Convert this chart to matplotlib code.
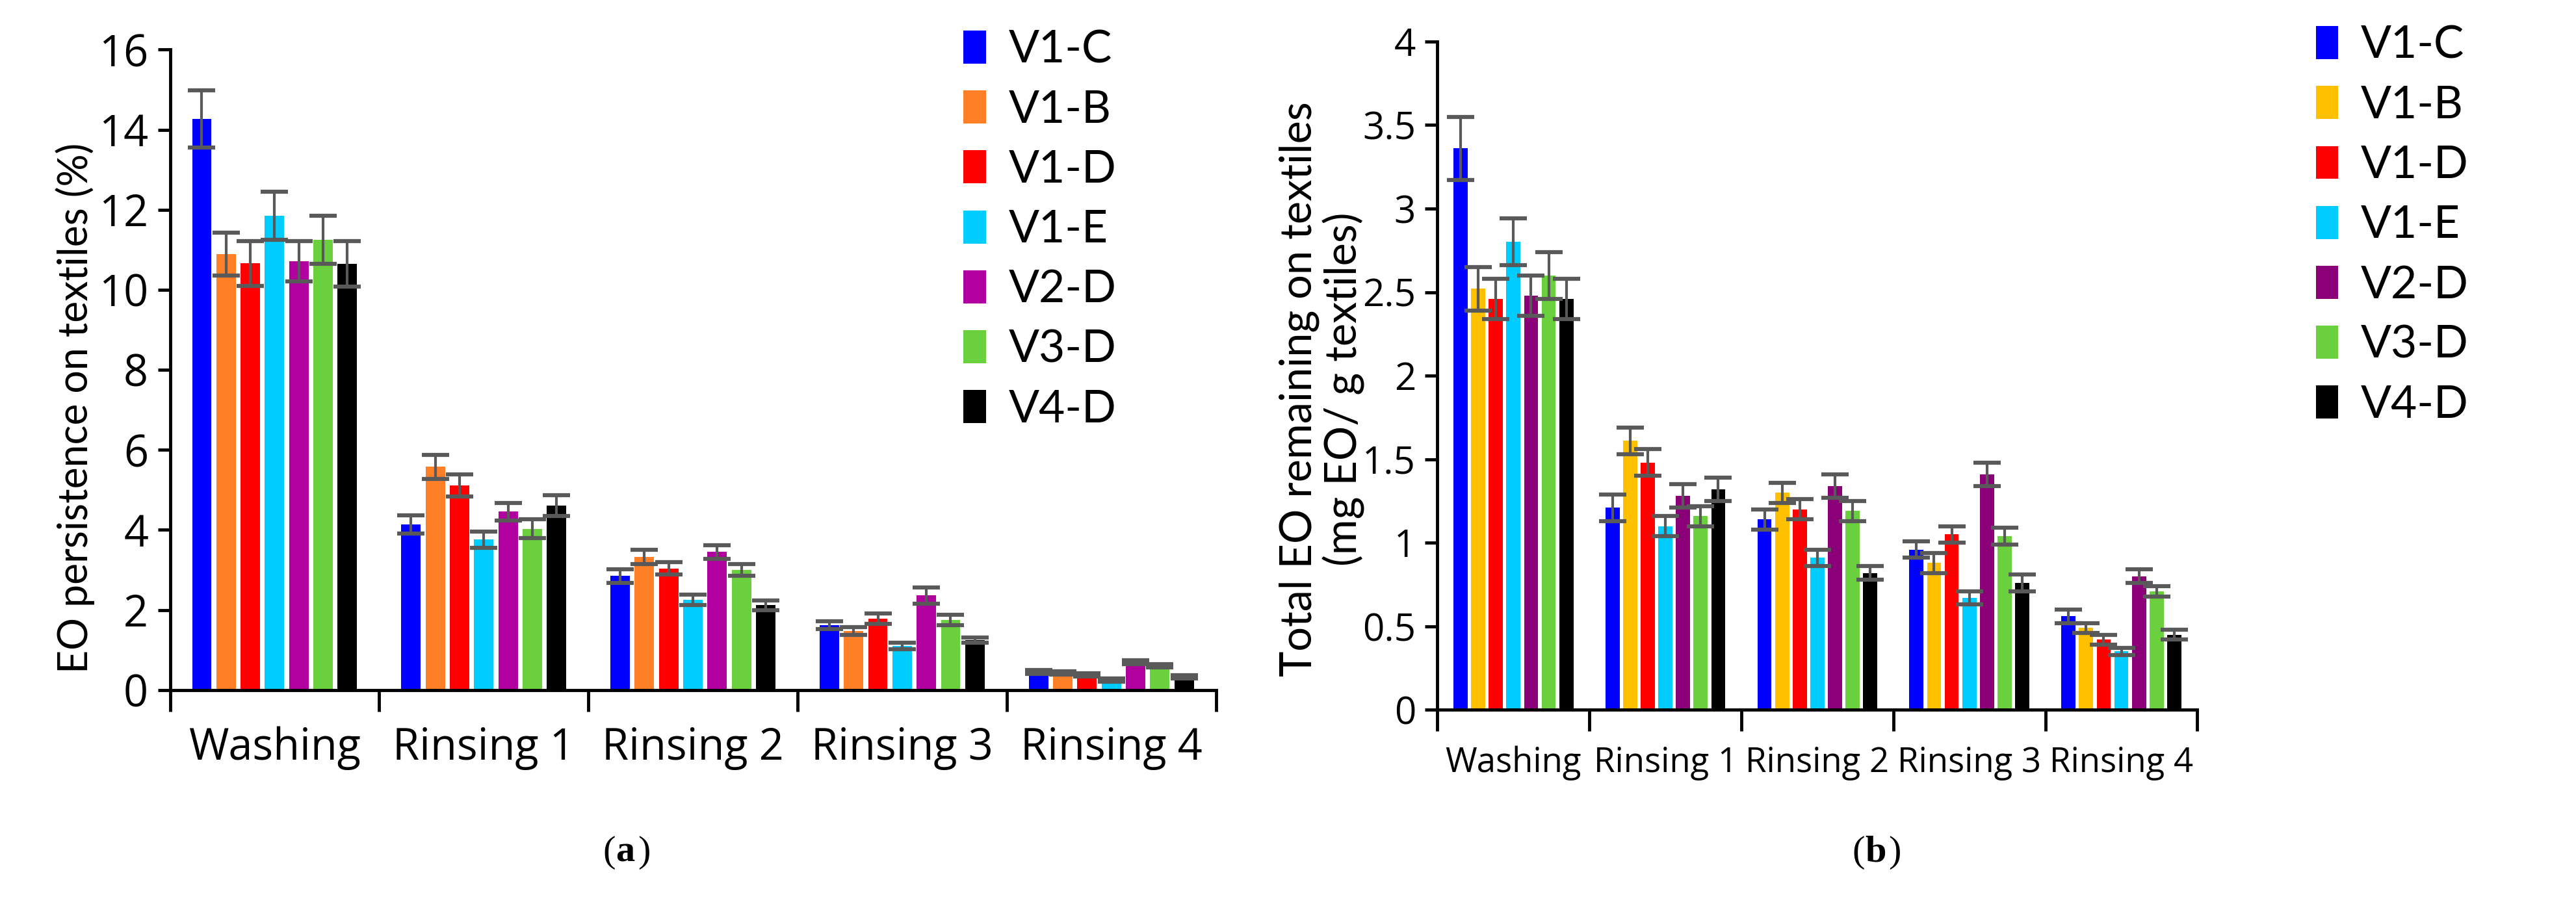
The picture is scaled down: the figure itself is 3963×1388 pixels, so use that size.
import matplotlib
matplotlib.use("Agg")
import matplotlib.pyplot as plt
from matplotlib.patches import Patch
from matplotlib.ticker import FuncFormatter, FixedLocator
import numpy as np

plt.rcParams['font.family'] = ['Lato', 'DejaVu Sans']

stages = ["Washing", "Rinsing 1", "Rinsing 2", "Rinsing 3", "Rinsing 4"]
samples = ["V1-C", "V1-B", "V1-D", "V1-E", "V2-D", "V3-D", "V4-D"]

# panel (a): EO persistence on textiles (%), one list per sample over the stages
pers_v1c = [14.27, 4.14, 2.85, 1.62, 0.45]
pers_v1b = [10.89, 5.58, 3.33, 1.47, 0.42]
pers_v1d = [10.66, 5.11, 3.04, 1.78, 0.38]
pers_v1e = [11.85, 3.76, 2.25, 1.10, 0.25]
pers_v2d = [10.71, 4.46, 3.45, 2.36, 0.70]
pers_v3d = [11.25, 4.03, 3.00, 1.75, 0.60]
pers_v4d = [10.65, 4.61, 2.12, 1.25, 0.33]

pers_err_v1c = [0.72, 0.23, 0.17, 0.10, 0.05]
pers_err_v1b = [0.53, 0.30, 0.18, 0.10, 0.04]
pers_err_v1d = [0.56, 0.27, 0.15, 0.13, 0.04]
pers_err_v1e = [0.60, 0.20, 0.13, 0.08, 0.04]
pers_err_v2d = [0.50, 0.22, 0.17, 0.20, 0.05]
pers_err_v3d = [0.60, 0.23, 0.15, 0.13, 0.04]
pers_err_v4d = [0.57, 0.26, 0.12, 0.07, 0.04]

# panel (b): total EO remaining (mg EO / g textiles)
rem_v1c = [3.36, 1.21, 1.14, 0.96, 0.56]
rem_v1b = [2.52, 1.61, 1.30, 0.88, 0.49]
rem_v1d = [2.46, 1.48, 1.20, 1.05, 0.42]
rem_v1e = [2.80, 1.10, 0.91, 0.67, 0.35]
rem_v2d = [2.48, 1.28, 1.34, 1.41, 0.80]
rem_v3d = [2.60, 1.16, 1.19, 1.04, 0.71]
rem_v4d = [2.46, 1.32, 0.82, 0.76, 0.45]

rem_err_v1c = [0.19, 0.08, 0.06, 0.05, 0.04]
rem_err_v1b = [0.13, 0.08, 0.06, 0.06, 0.03]
rem_err_v1d = [0.12, 0.08, 0.06, 0.05, 0.03]
rem_err_v1e = [0.14, 0.06, 0.05, 0.04, 0.02]
rem_err_v2d = [0.12, 0.07, 0.07, 0.07, 0.04]
rem_err_v3d = [0.14, 0.06, 0.06, 0.05, 0.03]
rem_err_v4d = [0.12, 0.07, 0.04, 0.05, 0.03]

colors_a = ["#0000ff", "#ff7f27", "#ff0000", "#00ccff", "#b0009e", "#6ad03e", "#000000"]
colors_b = ["#0000ff", "#ffc000", "#ff0000", "#00ccff", "#8b0078", "#6ad03e", "#000000"]

pers = [pers_v1c, pers_v1b, pers_v1d, pers_v1e, pers_v2d, pers_v3d, pers_v4d]
pers_err = [pers_err_v1c, pers_err_v1b, pers_err_v1d, pers_err_v1e, pers_err_v2d, pers_err_v3d, pers_err_v4d]
rem = [rem_v1c, rem_v1b, rem_v1d, rem_v1e, rem_v2d, rem_v3d, rem_v4d]
rem_err = [rem_err_v1c, rem_err_v1b, rem_err_v1d, rem_err_v1e, rem_err_v2d, rem_err_v3d, rem_err_v4d]

fig = plt.figure(figsize=(39.63, 13.88), dpi=100)
ax_a = fig.add_axes([0.066, 0.235, 0.406, 0.71])
ax_b = fig.add_axes([0.558, 0.213, 0.295, 0.741])

x = np.arange(len(stages))
pitch = 0.116
width = 0.093


def draw_panel(ax, data, errs, colors, ymax, ystep, xsize, ysize):
    for i, (vals, ev, c) in enumerate(zip(data, errs, colors)):
        pos = x + (i - 3) * pitch
        ax.bar(pos, vals, width, color=c, zorder=2)
        ax.errorbar(pos, vals, yerr=ev, fmt="none", ecolor="#595959",
                    elinewidth=3, capsize=15, capthick=4.5, zorder=3)
    ax.set_xlim(-0.5, len(stages) - 0.5)
    ax.set_ylim(0, ymax)
    ax.set_yticks(np.arange(0, ymax + ystep / 2, ystep))
    ax.yaxis.set_major_formatter(FuncFormatter(lambda v, p: "%g" % v))
    # group boundaries get the tick marks, names sit in between
    ax.xaxis.set_major_locator(FixedLocator(np.arange(-0.5, len(stages), 1.0)))
    ax.xaxis.set_major_formatter(FuncFormatter(lambda v, p: ""))
    ax.set_xticks(x, minor=True)
    ax.set_xticklabels(stages, minor=True, fontsize=xsize, family="Open Sans")
    ax.tick_params(axis="x", which="minor", length=0, pad=40)
    ax.tick_params(axis="x", which="major", length=24, width=3.5, direction="out")
    ax.tick_params(axis="y", length=14, width=3.5, direction="out", labelsize=ysize, pad=10)
    for lab in ax.get_yticklabels():
        lab.set_family("Open Sans")
    for s in ["top", "right"]:
        ax.spines[s].set_visible(False)
    for s in ["left", "bottom"]:
        ax.spines[s].set_linewidth(3.5)
    handles = [Patch(facecolor=c, label=n) for n, c in zip(samples, colors)]
    return handles


h_a = draw_panel(ax_a, pers, pers_err, colors_a, 16, 2, 48, 48)
h_b = draw_panel(ax_b, rem, rem_err, colors_b, 4, 0.5, 38, 42)

ax_a.set_ylabel("EO persistence on textiles (%)", fontsize=45)
ax_a.yaxis.set_label_coords(-0.072, 0.44)
ax_b.set_ylabel("Total EO remaining on textiles\n(mg EO/ g textiles)", fontsize=48,
                linespacing=1.1)
ax_b.yaxis.set_label_coords(-0.095, 0.48)

legend_kw = dict(loc="upper left", frameon=False, fontsize=50, handlelength=0.5,
                 handleheight=0.75, handletextpad=0.5, labelspacing=0.42,
                 borderaxespad=0, borderpad=0)
fig.legend(handles=h_a, bbox_to_anchor=(0.374, 0.967), **legend_kw)
fig.legend(handles=h_b, bbox_to_anchor=(0.899, 0.972), **legend_kw)

fig.text(0.239, 0.045, "(", fontsize=42, family="Liberation Serif", ha="right", va="baseline")
fig.text(0.239, 0.045, "a", fontsize=42, family="Liberation Serif", weight="bold", ha="left", va="baseline")
fig.text(0.2475, 0.045, ")", fontsize=42, family="Liberation Serif", ha="left", va="baseline")
fig.text(0.724, 0.045, "(", fontsize=42, family="Liberation Serif", ha="right", va="baseline")
fig.text(0.724, 0.045, "b", fontsize=42, family="Liberation Serif", weight="bold", ha="left", va="baseline")
fig.text(0.733, 0.045, ")", fontsize=42, family="Liberation Serif", ha="left", va="baseline")

fig.savefig("out.png", dpi=100, facecolor="white")
